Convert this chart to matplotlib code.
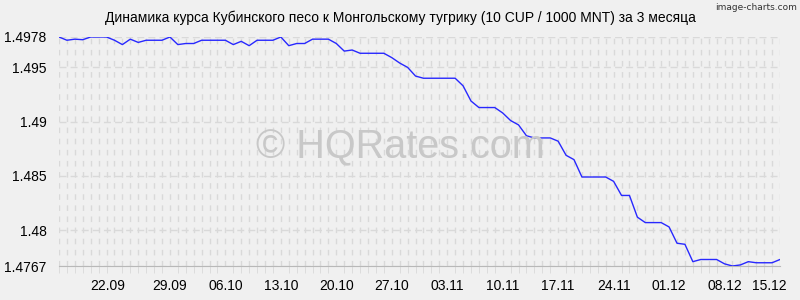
import matplotlib
matplotlib.use('Agg')
import matplotlib.pyplot as plt
import matplotlib.dates as mdates
import matplotlib.transforms as mtransforms
import pandas as pd

# Daily CUP/MNT rate (10 CUP / 1000 MNT), 15.09 - 15.12
dates = pd.date_range('2025-09-15', '2025-12-15', freq='D')
rates = [
    1.4978, 1.4975, 1.4976, 1.49755, 1.4978, 1.4978, 1.4978, 1.4975,
    1.4971, 1.4976, 1.4973, 1.4975, 1.4975, 1.4975, 1.4978, 1.4971,
    1.4972, 1.4972, 1.4975, 1.4975, 1.4975, 1.4975, 1.4971, 1.4974,
    1.4970, 1.4975, 1.4975, 1.4975, 1.4978, 1.4970, 1.4972, 1.4972,
    1.4976, 1.4976, 1.4976, 1.4972, 1.4965, 1.4966, 1.4963, 1.4963,
    1.4963, 1.4963, 1.4959, 1.4954, 1.4950, 1.4942, 1.4940, 1.4940,
    1.4940, 1.4940, 1.4940, 1.4933, 1.4919, 1.4913, 1.4913, 1.4913,
    1.4908, 1.4901, 1.4897, 1.4887, 1.4885, 1.4885, 1.4885, 1.4882,
    1.4869, 1.4865, 1.4849, 1.4849, 1.4849, 1.4849, 1.4845, 1.4832,
    1.4832, 1.4812, 1.4807, 1.4807, 1.4807, 1.4803, 1.4788, 1.4787,
    1.4771, 1.4773, 1.4773, 1.4773, 1.4769, 1.4767, 1.4768, 1.4771,
    1.4770, 1.4770, 1.4770, 1.4773,
]

y_ticks = [1.4767, 1.48, 1.485, 1.49, 1.495, 1.4978]
y_labels = ['1.4767', '1.48', '1.485', '1.49', '1.495', '1.4978']
x_labels = ['22.09', '29.09', '06.10', '13.10', '20.10', '27.10', '03.11',
            '10.11', '17.11', '24.11', '01.12', '08.12', '15.12']

TITLE = 'Динамика курса Кубинского песо к Монгольскому тугрику (10 CUP / 1000 MNT) за 3 месяца'

BG = '#f0f0f0'
GRID = '#d9d9d9'

plt.rcParams['font.family'] = ['Liberation Sans', 'DejaVu Sans']

fig = plt.figure(figsize=(8, 3), dpi=100, facecolor=BG)
ax = fig.add_axes([0.07375, 0.1133, 0.90125, 0.7634], facecolor=BG)

# watermark, centred on the picture (not on the plot area)
fig.text(0.5, 0.51, '© HQRates.com', ha='center', va='center',
         fontsize=28.5, color='#c8c8c8', zorder=0)

ax.plot(dates, rates, color='#2828ff', linewidth=1.0, zorder=3)

ax.set_xlim(dates[0], dates[-1])
ax.set_ylim(min(y_ticks), max(y_ticks))

ax.set_yticks(y_ticks)
ax.set_yticklabels(y_labels)
ax.set_xticks(dates[7::7])
ax.set_xticklabels(x_labels)
ax.xaxis.set_minor_locator(mdates.DayLocator())

ax.tick_params(axis='both', which='major', length=0, labelsize=10,
               colors='black')
ax.tick_params(axis='x', which='major', pad=9)
ax.tick_params(axis='y', which='major', pad=9)
ax.tick_params(axis='x', which='minor', length=5, color=GRID)

# first label sits a bit left, last one is pulled in from the right edge
lbls = ax.get_xticklabels()
lbls[0].set_transform(lbls[0].get_transform() +
                      mtransforms.ScaledTranslation(-7 / 100, 0, fig.dpi_scale_trans))
lbls[-1].set_transform(lbls[-1].get_transform() +
                       mtransforms.ScaledTranslation(-11 / 100, 0, fig.dpi_scale_trans))

ax.grid(True, which='both', axis='x', color=GRID, linestyle=(0, (4, 4)), linewidth=1)
ax.grid(True, which='major', axis='y', color=GRID, linestyle=(0, (5, 3)), linewidth=1)

for side in ['top', 'right', 'left']:
    ax.spines[side].set_visible(False)
ax.spines['bottom'].set_color('#b8b8b8')

fig.text(0.5, 0.94, TITLE, ha='center', va='center', fontsize=10, color='black')
fig.text(0.996, 0.975, 'image-charts.com', ha='right', va='center', fontsize=6.5,
         color='#333333', family=['Liberation Sans Narrow', 'DejaVu Sans'])

fig.savefig('out.png', dpi=100, facecolor=BG)
